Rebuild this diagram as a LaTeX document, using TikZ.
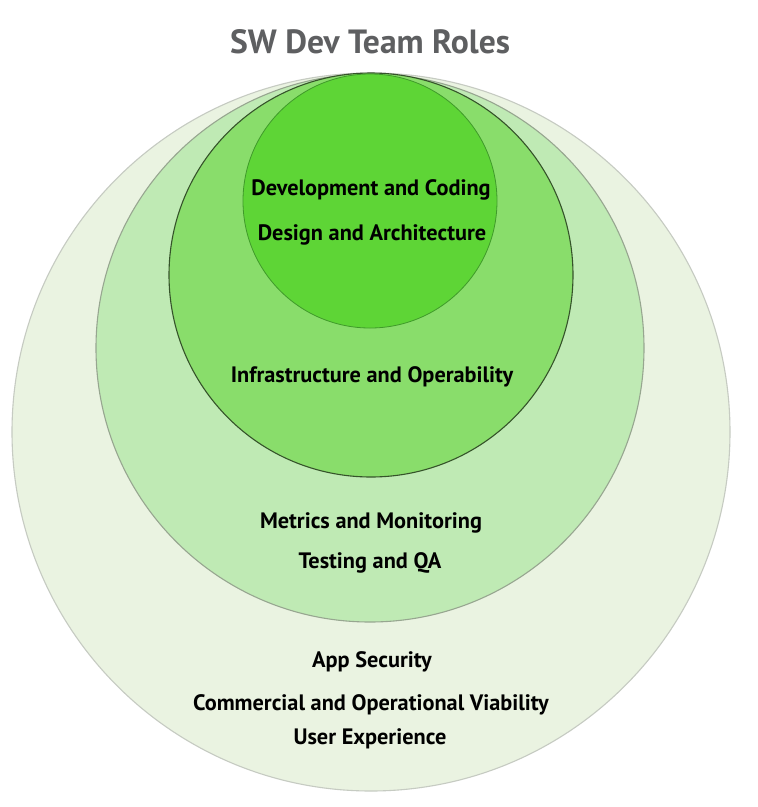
\documentclass[tikz,border=0pt]{standalone}
\usepackage{fontspec}
\setmainfont{PT Sans}
\begin{document}
\definecolor{ringA}{HTML}{EAF3E1}
\definecolor{ringAedge}{HTML}{C6CBC2}
\definecolor{ringB}{HTML}{BFEAB4}
\definecolor{ringBedge}{HTML}{97A690}
\definecolor{ringC}{HTML}{89DD6B}
\definecolor{ringCedge}{HTML}{35532A}
\definecolor{ringD}{HTML}{5ED536}
\definecolor{ringDedge}{HTML}{3F9A2A}
\definecolor{titlegray}{HTML}{5E5F61}
\begin{tikzpicture}[x=1pt,y=-1pt,
  ring/.style={circle,inner sep=0pt,line width=1.1pt},
  role/.style={font=\bfseries\fontsize{22.3}{26}\selectfont,text=black,inner sep=0pt},
  heading/.style={font=\bfseries\fontsize{33.6}{38}\selectfont,text=titlegray,inner sep=0pt}]
  \useasboundingbox (0,0) rectangle (758,807);
  \fill[white] (0,0) rectangle (758,807);

  % nested role rings, all touching at the top
  \node[ring,draw=ringAedge,fill=ringA,minimum size=718pt] (outer) at (371,432) {};
  \node[ring,draw=ringBedge,fill=ringB,minimum size=548pt] (middle) at (370,348) {};
  \node[ring,draw=ringCedge,fill=ringC,minimum size=404pt] (inner) at (371,275) {};
  \node[ring,draw=ringDedge,fill=ringD,minimum size=254pt,line width=0.8pt] (core) at (370,201) {};

  \node[heading] (title) at (370,42) {SW Dev Team Roles};

  \node[role] (dev) at (371,190) {Development and Coding};
  \node[role] (design) at (372,235) {Design and Architecture};
  \node[role] (infra) at (372,377) {Infrastructure and Operability};
  \node[role] (metrics) at (371,523) {Metrics and Monitoring};
  \node[role] (testing) at (370,563) {Testing and QA};
  \node[role] (security) at (372,662) {App Security};
  \node[role] (viability) at (371,705) {Commercial and Operational Viability};
  \node[role] (ux) at (370,739) {User Experience};
\end{tikzpicture}
\end{document}
